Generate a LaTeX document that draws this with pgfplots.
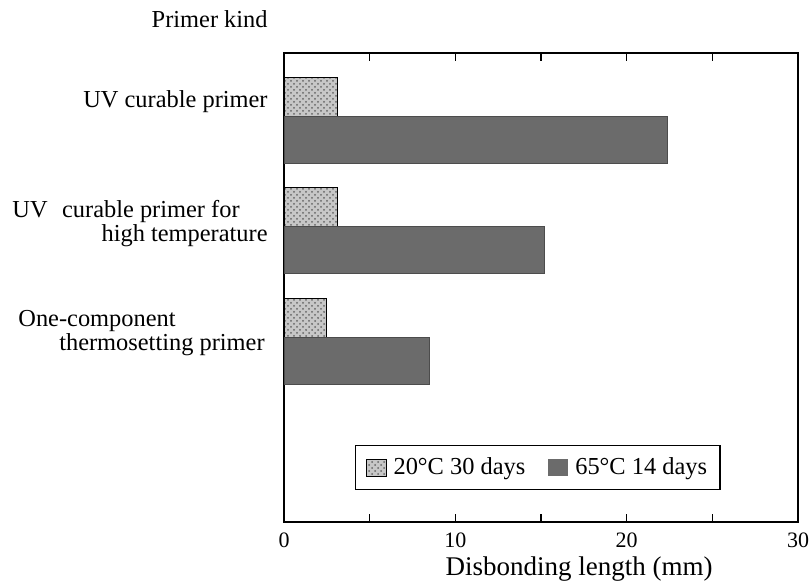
\documentclass[border=0pt]{standalone}
\usepackage{fontspec}
\setmainfont{Liberation Serif}
\usepackage{pgfplots}
\pgfplotsset{compat=1.18}
\usetikzlibrary{patterns}
\begin{document}
\begin{tikzpicture}
\begin{axis}[
  at={(142pt,-261pt)}, anchor=south west,
  scale only axis, width=257pt, height=234.5pt,
  xmin=0, xmax=30,
  ymin=0.389, ymax=4.633, y dir=reverse,
  ytick=\empty,
  xtick={0,5,...,30},
  xticklabels={0,,10,,20,,30},
  xticklabel style={font=\fontsize{11}{13}\selectfont},
  xticklabel shift=2pt,
  /pgf/number format/assume math mode=true,
  major tick length=4pt,
  axis line style={line width=0.8pt},
  every tick/.style={black, line width=0.6pt},
  legend columns=2,
  legend cell align=left,
  legend image code/.code={\fill[#1,draw=none] (0pt,-4.25pt) rectangle (10pt,4.25pt);},
  legend style={at={(0.494,0.116)}, anchor=center, draw=black, line width=0.7pt,
    font=\fontsize{12.2}{14}\selectfont,
    nodes={inner sep=1.5pt},
    inner xsep=5pt, inner ysep=4.5pt,
    /tikz/every odd column/.append style={column sep=2pt},
    /tikz/every even column/.append style={column sep=10pt}},
]
\addplot[xbar, bar width=0.353, bar shift=-0.217, draw=black, line width=0.4pt,
  fill=black!22, postaction={pattern=crosshatch dots, pattern color=black!60}]
  coordinates {(3.1,1) (3.1,2) (2.5,3)};
\addlegendentry{20°C 30 days}
\addplot[xbar, bar width=0.425, bar shift=0.172, draw=black!70, line width=0.4pt,
  fill=black!58]
  coordinates {(22.4,1) (15.2,2) (8.5,3)};
\addlegendentry{65°C 14 days}
\end{axis}
\begin{scope}[font=\fontsize{12.2}{14}\selectfont]
\node[anchor=base east, inner sep=0pt] at (134pt,-14pt) {Primer kind};
\node[anchor=base east, inner sep=0pt] at (134pt,-54pt) {UV curable primer};
\node[anchor=base west, inner sep=0pt] at (6pt,-109pt) {UV};
\node[anchor=base east, inner sep=0pt] at (120pt,-109pt) {curable primer for};
\node[anchor=base east, inner sep=0pt] at (134pt,-121pt) {high temperature};
\node[anchor=base west, inner sep=0pt] at (9pt,-163pt) {One-component};
\node[anchor=base east, inner sep=0pt] at (132.5pt,-175pt) {thermosetting primer};
\end{scope}
\node[anchor=base, inner sep=0pt, font=\fontsize{13.5}{15}\selectfont] at (289.5pt,-287.5pt) {Disbonding length (mm)};
\pgfresetboundingbox
\useasboundingbox (0pt,0pt) rectangle (406pt,-291pt);
\end{tikzpicture}
\end{document}
